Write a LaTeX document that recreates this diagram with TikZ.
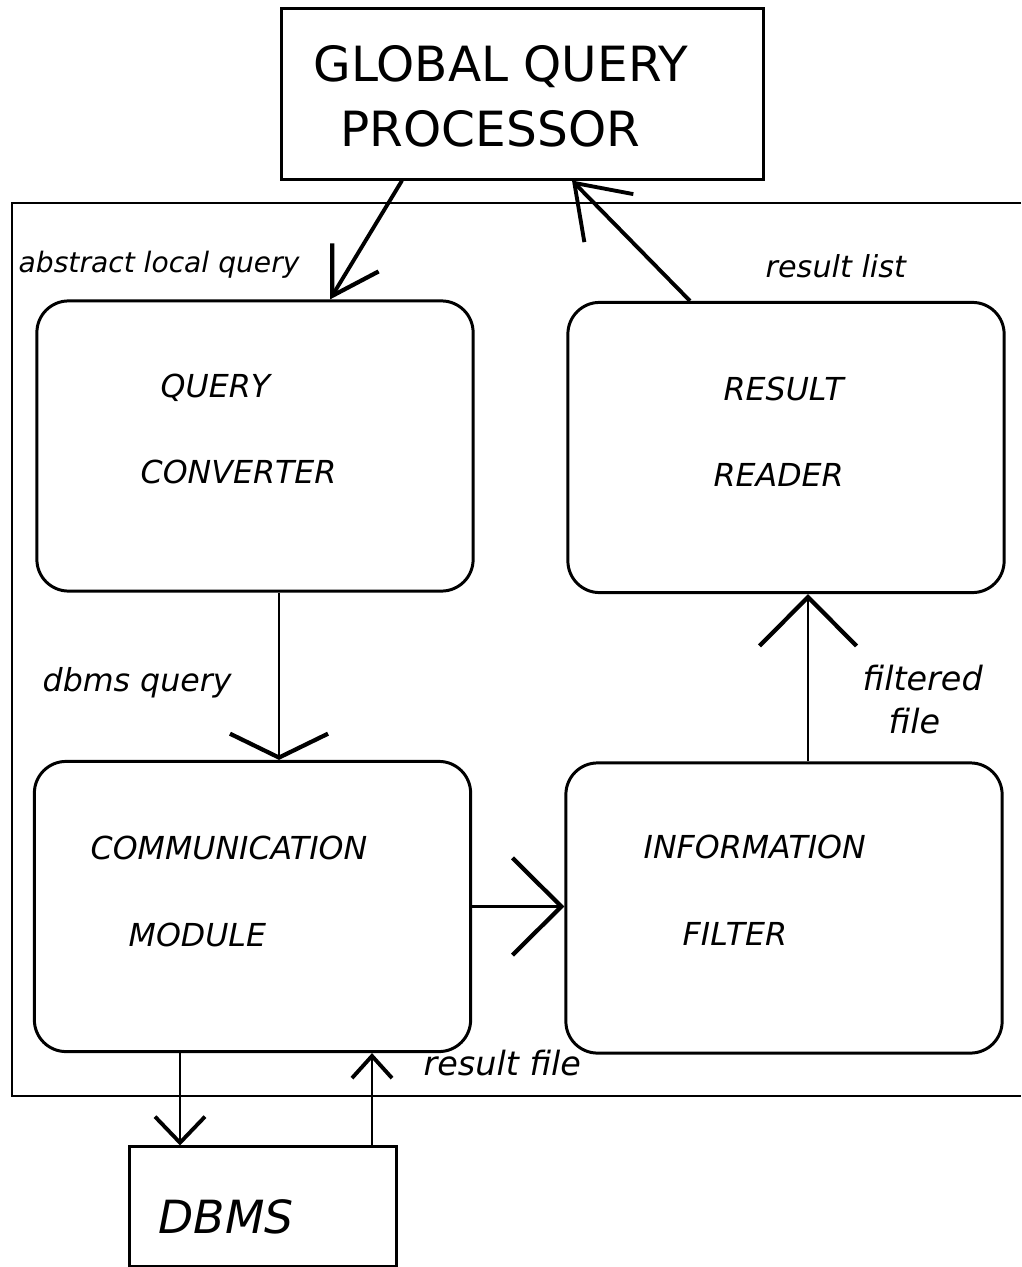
\documentclass[tikz,border=0pt]{standalone}
\usepackage{fontspec}
\setmainfont{DejaVu Sans}
\usetikzlibrary{arrows.meta,positioning}

\tikzset{
  box/.style={draw, line width=0.85pt, inner sep=0pt},
  module/.style={box, rounded corners=9pt, minimum width=4.36cm, minimum height=2.9cm},
  title/.style={inner sep=0pt, anchor=base west, font=\fontsize{13.8}{16}\selectfont},
  caps/.style={inner sep=0pt, anchor=base west, font=\fontsize{9}{11}\itshape},
  flow/.style={inner sep=0pt, anchor=base west, font=\fontsize{9}{11}\itshape},
  frame/.style={line width=0.8pt},
  conn/.style={line width=0.6pt},
  heavy/.style={line width=1.1pt},
  bigbarb/.tip={Straight Barb[length=13.9pt,width=27.6pt,line width=1.2pt]},
  flatbarb/.tip={Straight Barb[length=6.8pt,width=27.9pt,line width=1.2pt]},
  slantbarb/.tip={Straight Barb[length=12.8pt,width=15.4pt,line width=1.2pt]},
  listbarb/.tip={Straight Barb[length=14pt,width=19.5pt,line width=1.1pt]},
  smallbarb/.tip={Straight Barb[length=7.4pt,width=14.2pt,line width=1.1pt]},
  tinybarb/.tip={Straight Barb[length=6.3pt,width=11.4pt,line width=1.1pt]},
}

\begin{document}
\begin{tikzpicture}[x=0.01cm,y=-0.01cm]
\useasboundingbox (0,0) rectangle (1021,1267);

% local site frame, open on the right
\draw[frame] (1021,203) -- (12,203) -- (12,1096) -- (1021,1096);

% global processor
\node[box, minimum width=4.81cm, minimum height=1.70cm] (gqp) at (522.5,94) {};
\node[title] (gqp1) at (313,82) {GLOBAL QUERY};
\node[title] (gqp2) at (340,147) {PROCESSOR};

% the four modules
\node[module] (qc) at (255,446) {};
\node[module] (rr) at (786,447.5) {};
\node[module] (cm) at (252.5,906.5) {};
\node[module] (if) at (784,908) {};

\node[caps] (qc1) at (160,397) {QUERY};
\node[caps] (qc2) at (140,483) {CONVERTER};
\node[caps] (rr1) at (723,400) {RESULT};
\node[caps] (rr2) at (713,486) {READER};
\node[caps] (cm1) at (90,859) {COMMUNICATION};
\node[caps] (cm2) at (128,946) {MODULE};
\node[caps] (if1) at (643,858) {INFORMATION};
\node[caps] (if2) at (682,945) {FILTER};

% dbms
\node[box, minimum width=2.66cm, minimum height=1.19cm] (dbms) at (263,1206.5) {};
\node[caps, font=\fontsize{13}{15}\itshape] (dbms1) at (158,1233) {DBMS};

% data flows
\draw[heavy, -{slantbarb}] (gqp.south -| 402,0) -- (qc.north -| 330,0);
\draw[heavy, -{listbarb}] (rr.north -| 690,0) -- (gqp.south -| 572,0);
\draw[conn, -{flatbarb}] (qc.south -| 279,0) -- (cm.north -| 279,0);
\draw[conn, -{bigbarb}] (cm.east) -- (cm.east -| if.west);
\draw[conn, -{bigbarb}] (if.north -| 808,0) -- (rr.south -| 808,0);
\draw[conn, -{smallbarb}] (cm.south -| 180,0) -- (dbms.north -| 180,0);
\draw[conn, -{tinybarb}] (dbms.north -| 372,0) -- (cm.south -| 372,0);

\node[flow, font=\fontsize{8}{10}\itshape] (l1) at (18,273) {abstract local query};
\node[flow, font=\fontsize{8.6}{10}\itshape] (l2) at (765,278) {result list};
\node[flow] (l3) at (42,691) {dbms query};
\node[flow, font=\fontsize{9.5}{11}\itshape] (l4) at (862,690) {filtered};
\node[flow, font=\fontsize{9.5}{11}\itshape] (l5) at (888,733) {file};
\node[flow, font=\fontsize{9.5}{11}\itshape] (l6) at (423,1075) {result file};
\end{tikzpicture}
\end{document}
